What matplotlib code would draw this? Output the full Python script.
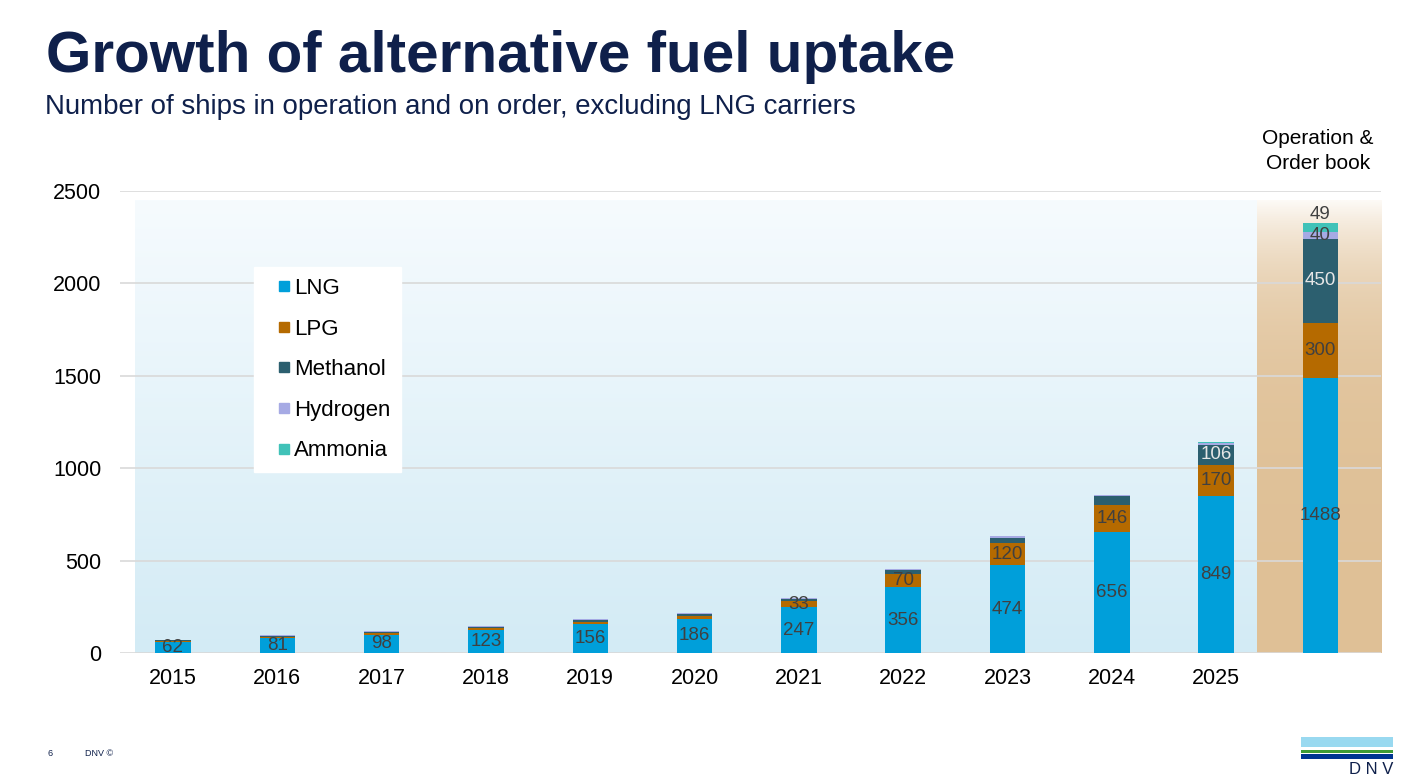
import numpy as np
import matplotlib.pyplot as plt
from matplotlib.lines import Line2D
from matplotlib.patches import Rectangle
from matplotlib.colors import to_rgb

plt.rcParams["font.family"] = ["Liberation Sans", "DejaVu Sans"]

# data
years = ["2015", "2016", "2017", "2018", "2019", "2020", "2021", "2022", "2023", "2024", "2025", ""]
lng = [62, 81, 98, 123, 156, 186, 247, 356, 474, 656, 849, 1488]
lpg = [4, 8, 10, 10, 13, 15, 33, 70, 120, 146, 170, 300]
methanol = [2, 5, 7, 8, 11, 12, 12, 22, 30, 45, 106, 450]
hydrogen = [2, 2, 3, 3, 2, 2, 3, 4, 8, 8, 12, 40]
ammonia = [0, 0, 0, 0, 0, 0, 0, 0, 0, 0, 4, 49]

series = [
    ("LNG", lng, "#009fda"),
    ("LPG", lpg, "#b56a00"),
    ("Methanol", methanol, "#2c5f6f"),
    ("Hydrogen", hydrogen, "#a6aae4"),
    ("Ammonia", ammonia, "#40c2b8"),
]

W, H = 1421, 780
fig = plt.figure(figsize=(W / 100, H / 100), dpi=100)
ax = fig.add_axes([120 / W, 1 - 653 / H, 1261 / W, 462 / H])

x = np.arange(len(years))
xmin, xmax = -0.508, 11.58
split = 10.39
bg_top = 2450

# background gradients
n = 256
t = np.linspace(0, 1, n)[:, None]
c_top, c_bot = np.array(to_rgb("#f6fbfe")), np.array(to_rgb("#d3ebf5"))
blue = (c_top + (c_bot - c_top) * t)[:, None, :]
ax.imshow(blue, extent=(-0.365, split, 0, bg_top), aspect="auto", zorder=0)
f = 1 - np.exp(-t * 453 / 75)
t_top, t_bot = np.array(to_rgb("#fdfaf6")), np.array(to_rgb("#dfc096"))
tan = (t_top + (t_bot - t_top) * f)[:, None, :]
ax.imshow(tan, extent=(split, xmax, 0, bg_top), aspect="auto", zorder=0)

# bars
bottom = np.zeros(len(years))
for name, vals, col in series:
    ax.bar(x, vals, 0.34, bottom=bottom, color=col, label=name, zorder=2)
    bottom += np.array(vals)

# labels
label_col = "#404040"
cum = np.zeros(len(years))
for name, vals, col in series:
    for i, v in enumerate(vals):
        mid = cum[i] + v / 2
        show = False
        tc = label_col
        if name == "LNG":
            show = True
        elif name == "LPG" and v >= 33:
            show = True
        elif name == "Methanol" and v >= 100:
            show = True
            tc = "#e6e6e6"
        elif name == "Hydrogen" and v >= 40:
            show = True
        if show:
            ax.text(x[i], mid, str(v), ha="center", va="center", fontsize=13.5,
                    color=tc, zorder=3)
    cum += np.array(vals)
ax.text(x[-1], bottom[-1], str(ammonia[-1]), ha="center", va="bottom",
        fontsize=13.5, color=label_col, zorder=3)

ax.set_xlim(xmin, xmax)
ax.set_ylim(0, 2500)
ax.set_yticks([0, 500, 1000, 1500, 2000, 2500])
ax.set_xticks(x)
ax.set_xticklabels(years)
ax.tick_params(axis="both", length=0, labelsize=15.5, colors="#000000")
ax.tick_params(axis="y", pad=13.5)
ax.tick_params(axis="x", pad=11)
ax.yaxis.grid(True, color="#d9d9d9", lw=1.2)
ax.set_axisbelow(True)
for s in ax.spines.values():
    s.set_visible(False)
ax.set_facecolor("none")

handles = [Line2D([], [], marker="s", ls="", color=c, markersize=7.5) for _, _, c in series]
leg = ax.legend(handles, [s[0] for s in series], loc="upper left",
                bbox_to_anchor=((254 - 120) / 1261, (653 - 267) / 462),
                frameon=True, fancybox=False, fontsize=16, labelspacing=0.88,
                handletextpad=-0.4, handlelength=1.7, borderpad=0.5,
                borderaxespad=0)
leg.get_frame().set_facecolor("white")
leg.get_frame().set_edgecolor("white")
leg.get_frame().set_alpha(1)
leg.set_zorder(5)

# titles
navy = "#0f204b"
fig.text(46 / W, 1 - 57 / H, "Growth of alternative fuel uptake", fontsize=42,
         fontweight="bold", color=navy, va="center", ha="left")
fig.text(45 / W, 1 - 107 / H,
         "Number of ships in operation and on order, excluding LNG carriers",
         fontsize=19.9, color=navy, va="center", ha="left")
fig.text(1318 / W, 1 - 151 / H, "Operation &\nOrder book", fontsize=15,
         color="black", ha="center", va="center", linespacing=1.45)

# footer
fig.text(48 / W, 1 - 754 / H, "6", fontsize=6.5, color=navy, va="center")
fig.text(85 / W, 1 - 754 / H, "DNV \u00a9", fontsize=6.5, color=navy, va="center")

# logo
for y0, y1, c in [(737, 747, "#99d9f0"), (750, 753, "#3f9c35"), (754, 759, "#003591")]:
    fig.patches.append(Rectangle((1301 / W, 1 - y1 / H), 92 / W, (y1 - y0) / H,
                                 transform=fig.transFigure, color=c, lw=0))
fig.text(1393 / W, 1 - 770 / H, "D N V", fontsize=12, color=navy, ha="right",
         va="center")

fig.savefig("out.png", dpi=100)
